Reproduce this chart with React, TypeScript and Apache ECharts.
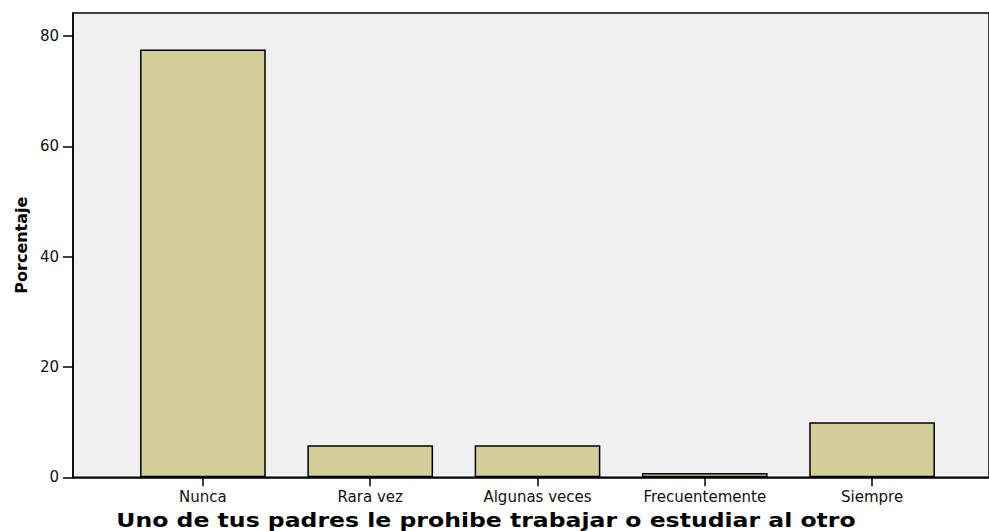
import React, { useEffect, useRef } from "react";
import * as echarts from "echarts";

const categories = ["Nunca", "Rara vez", "Algunas veces", "Frecuentemente", "Siempre"];
const values = [77.6, 5.8, 5.8, 0.8, 10.0];
const yTicks = [0, 20, 40, 60, 80];
const xTitle = "Uno de tus padres le prohibe trabajar o estudiar al otro";
const yTitle = "Porcentaje";

export default function App() {
  const ref = useRef<HTMLDivElement>(null);
  useEffect(() => {
    if (!ref.current) return;
    const chart = echarts.init(ref.current, undefined, { renderer: "svg" });
    const yMax = 84.2;
    const font = "DejaVu Sans";
    chart.setOption({
      animation: false,
      grid: [
        {
          left: 73, right: -20, top: 13, bottom: 53.7,
          show: true, backgroundColor: "#f0f0f0", borderColor: "#000", borderWidth: 1.5,
        },
        { left: 119.25, right: 33.25, top: 13, bottom: 53.7 },
      ],
      xAxis: [
        {
          gridIndex: 0, type: "value", min: 0, max: 1,
          axisLine: { show: true, lineStyle: { color: "#000", width: 1.5 } },
          axisTick: { show: false }, axisLabel: { show: false }, splitLine: { show: false },
        },
        {
          gridIndex: 1, type: "category", data: categories,
          axisLine: { show: false },
          axisTick: { show: true, alignWithLabel: true, length: 9, lineStyle: { color: "#000", width: 1.5 } },
          axisLabel: { color: "#111", fontFamily: font, fontSize: 15, margin: 12 },
        },
      ],
      yAxis: [
        {
          gridIndex: 0, type: "value", min: 0, max: yMax, interval: 20,
          axisLine: { show: true, lineStyle: { color: "#000", width: 1.5 } },
          axisTick: { show: true, length: 10, customValues: yTicks, lineStyle: { color: "#000", width: 1.5 } },
          axisLabel: {
            color: "#111", fontFamily: font, fontSize: 15, margin: 14, customValues: yTicks,
          },
          splitLine: { show: false },
          name: yTitle, nameLocation: "middle", nameGap: 44,
          nameTextStyle: { color: "#000", fontFamily: font, fontSize: 16, fontWeight: "bold" },
        },
        { gridIndex: 1, type: "value", min: 0, max: yMax, show: false },
      ],
      graphic: [
        {
          type: "text", x: 486, y: 520, scaleX: 1.24,
          style: {
            text: xTitle, fill: "#000", fontFamily: font, fontSize: 19, fontWeight: "bold",
            textAlign: "center", textVerticalAlign: "middle", verticalAlign: "middle",
          },
        },
      ],
      series: [
        {
          type: "bar", xAxisIndex: 1, yAxisIndex: 1, data: values,
          barWidth: 125.7,
          itemStyle: { color: "#d3ce98", borderColor: "#000", borderWidth: 1.5 },
        },
      ],
    });
    return () => chart.dispose();
  }, []);
  return <div ref={ref} style={{ width: 989, height: 531, position: "absolute", left: 0, top: 0 }} />;
}
